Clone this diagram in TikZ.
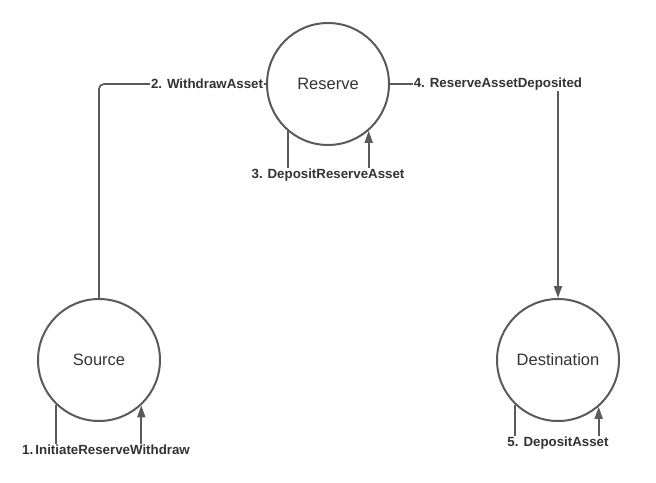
\documentclass[tikz,border=0pt]{standalone}
\usepackage{fontspec}
\setmainfont{Liberation Sans}
\usetikzlibrary{arrows.meta,backgrounds}
\definecolor{linegray}{HTML}{5A5A5A}
\definecolor{textgray}{HTML}{333333}
\tikzset{
  state/.style={circle,draw=linegray,line width=2pt,minimum size=122pt,inner sep=0pt,
    text=textgray,font=\fontsize{16.5}{18}\selectfont},
  msg/.style={fill=white,inner sep=1pt,text=textgray,font=\fontsize{13.3}{15}\selectfont\bfseries},
  conn/.style={draw=linegray,line width=1.7pt},
  arr/.style={conn,-{Triangle[length=12pt,width=8pt]}}
}
\begin{document}
\begin{tikzpicture}[x=1pt,y=-1pt]
\useasboundingbox (0,0) rectangle (656,482);
\node[state] (reserve) at (328,84) {Reserve};
\node[state] (source) at (99,360) {Source};
\node[state] (dest) at (558,360) {Destination};

\node[msg] (l1) at (106,450) {1.\,InitiateReserveWithdraw};
\node[msg] (l2) at (207,84) {2. WithdrawAsset};
\node[msg] (l3) at (328,175) {3. DepositReserveAsset};
\node[msg] (l4) at (498,84) {4. ReserveAssetDeposited};
\node[msg] (l5) at (558,443) {5. DepositAsset};

\begin{pgfonlayer}{background}
\draw[conn,rounded corners=5pt] (source.north) |- (reserve.west);
\draw[arr] (reserve.east) -| (dest.north);
\end{pgfonlayer}

\draw[conn] (source.226.5) -- (source.226.5 |- l1.north);
\draw[arr] (source.313.5 |- l1.north) -- (source.313.5);
\draw[conn] (reserve.230) -- (reserve.230 |- l3.north);
\draw[arr] (reserve.311 |- l3.north) -- (reserve.311);
\draw[conn] (dest.226.5) -- (dest.226.5 |- l5.north);
\draw[arr] (dest.311 |- l5.north) -- (dest.311);
\end{tikzpicture}
\end{document}
